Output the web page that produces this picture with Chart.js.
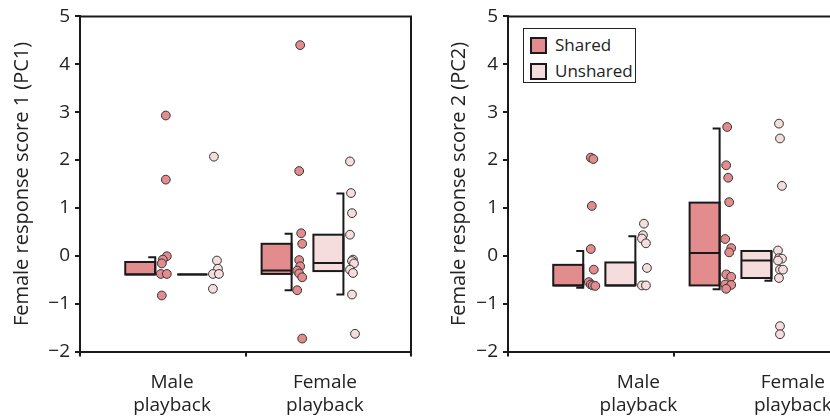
<!DOCTYPE html>
<html lang="en">
<head>
  <meta charset="UTF-8" />
  <title>Female response scores</title>
  <style>
    html, body { margin: 0; padding: 0; background: #fff; overflow: hidden; }
    body { width: 830px; height: 416px; position: relative; font-family: "Open Sans", sans-serif; }
    .panel { position: absolute; top: 0; width: 440px; height: 416px; }
    #panelLeft { left: 0; }
    #panelRight { left: 428px; }
    .legend {
      position: absolute; left: 523px; top: 28px; width: 111px; height: 53px;
      border: 1.5px solid #222; background: #fff; color: #222; font-size: 17px;
    }
    .legend .row { position: absolute; left: 6px; height: 18px; line-height: 18px; }
    .legend .sw { display: inline-block; width: 13px; height: 13px; border: 2px solid #1a1a1a; vertical-align: -3px; margin-right: 8px; }
  </style>
</head>
<body>
  <div class="panel" id="panelLeft"><canvas id="chartPC1" width="440" height="416"></canvas></div>
  <div class="panel" id="panelRight"><canvas id="chartPC2" width="440" height="416"></canvas></div>
  <div class="legend">
    <div class="row" style="top:7px"><span class="sw" style="background:#E38C8E"></span>Shared</div>
    <div class="row" style="top:33px"><span class="sw" style="background:#F5DCDD"></span>Unshared</div>
  </div>

  <script src="https://cdn.jsdelivr.net/npm/chart.js@4.4.1/dist/chart.umd.min.js"></script>
  <script>
    // groups in drawing order
    const groups = ['Male Shared', 'Male Unshared', 'Female Shared', 'Female Unshared'];
    const yTicks = [-2, -1, 0, 1, 2, 3, 4, 5];

    // box stats: [min, q1, median, q3, max]
    const pc1Boxes = [
      [-0.39, -0.39, -0.39, -0.13, -0.03],
      [-0.39, -0.39, -0.39, -0.39, -0.39],
      [-0.72, -0.38, -0.31, 0.25, 0.46],
      [-0.81, -0.32, -0.15, 0.44, 1.30]
    ];
    const pc2Boxes = [
      [-0.67, -0.62, -0.62, -0.19, 0.10],
      [-0.62, -0.62, -0.62, -0.14, 0.41],
      [-0.70, -0.62, 0.055, 1.11, 2.66],
      [-0.52, -0.465, -0.10, 0.10, 0.10]
    ];

    // individual scores
    const pc1MaleShared = [2.93, 1.59, -0.01, -0.08, -0.16, -0.38, -0.38, -0.83];
    const pc1MaleUnshared = [2.07, -0.10, -0.27, -0.38, -0.38, -0.69];
    const pc1FemaleShared = [4.40, 1.77, 0.47, 0.25, -0.09, -0.22, -0.31, -0.37, -0.45, -0.72, -1.73];
    const pc1FemaleUnshared = [1.97, 1.31, 0.89, 0.44, -0.08, -0.11, -0.16, -0.29, -0.36, -0.81, -1.63];

    const pc2MaleShared = [2.05, 2.02, 1.04, 0.14, -0.29, -0.55, -0.60, -0.62, -0.63];
    const pc2MaleUnshared = [0.67, 0.43, 0.36, 0.26, -0.255, -0.62, -0.62];
    const pc2FemaleShared = [2.69, 1.89, 1.63, 1.12, 0.35, 0.16, 0.07, -0.39, -0.44, -0.60, -0.61, -0.69];
    const pc2FemaleUnshared = [2.76, 2.45, 1.46, 0.11, -0.05, -0.06, -0.10, -0.29, -0.29, -0.465, -1.47, -1.64];

    // horizontal jitter of the dots (pixels)
    const pc1Jitter = [
      [2, 2, 3, -1, -2, -3, 3, -2],
      [-2, 1, 2, -3, 3, -3],
      [0, -1, 1, 2, -1, 0, -3, -1, 2, -3, 2],
      [-2, -1, 0, -2, 1, 0, 2, -2, 1, 0, 3]
    ];
    const pc2Jitter = [
      [-1, 1.5, 0, -1, 2, -3, -1, 1, 3.5],
      [0, -1, -2, 2, 3, -2, 2],
      [-1, -2, 0, 1, -3, 3, 1, -2, 3, -3, 3, -2],
      [-1, 0, 2, -2, -1, 2, -2, 0, 3, -1, 0, 0]
    ];

    // layout (x axis runs 0..2, tick at 1)
    const boxX = [0.364, 0.679, 1.188, 1.501];
    const PX = 1 / 165;          // one pixel in x units
    const dotOffset = 23.5;      // dots sit right of the box
    const pc1LabelX = [0.556, 1.48];
    const pc2LabelX = [0.788, 1.721];
    const catLabels = [['Male', 'playback'], ['Female', 'playback']];

    const fills = ['#E38C8E', '#F5DCDD', '#E38C8E', '#F5DCDD'];
    const ink = '#1a1a1a';
    const FONT = '"Open Sans", sans-serif';

    const boxPlugin = {
      id: 'boxes',
      beforeDatasetsDraw(chart) {
        const { ctx, scales: { x, y } } = chart;
        const boxes = chart.options.plugins.boxes.stats;
        const half = 15, cap = 7;
        ctx.save();
        ctx.lineWidth = 2;
        ctx.strokeStyle = ink;
        boxes.forEach((b, i) => {
          const cx = x.getPixelForValue(boxX[i]);
          const l = cx - half, r = cx + half;
          const yMin = y.getPixelForValue(b[0]), yQ1 = y.getPixelForValue(b[1]);
          const yMed = y.getPixelForValue(b[2]), yQ3 = y.getPixelForValue(b[3]);
          const yMax = y.getPixelForValue(b[4]);
          ctx.fillStyle = fills[i];
          ctx.fillRect(l, yQ3, r - l, yQ1 - yQ3);
          ctx.strokeRect(l, yQ3, r - l, yQ1 - yQ3);
          ctx.beginPath();
          ctx.moveTo(l, yMed); ctx.lineTo(r, yMed);
          // half whiskers on the right edge
          ctx.moveTo(r, yMax); ctx.lineTo(r, yMin);
          if (b[4] > b[3]) { ctx.moveTo(r - cap, yMax); ctx.lineTo(r + 1, yMax); }
          if (b[0] < b[1]) { ctx.moveTo(r - cap, yMin); ctx.lineTo(r + 1, yMin); }
          ctx.stroke();
        });
        ctx.restore();
      },
      afterDraw(chart) {
        const { ctx, chartArea: a } = chart;
        ctx.save();
        ctx.strokeStyle = ink;
        ctx.lineWidth = 2;
        ctx.beginPath();
        ctx.moveTo(a.left, a.top); ctx.lineTo(a.right, a.top); ctx.lineTo(a.right, a.bottom);
        ctx.stroke();
        ctx.restore();
      }
    };

    function dots(values, jitter, i) {
      return {
        data: values.map((v, k) => ({ x: boxX[i] + (dotOffset + jitter[k]) * PX, y: v })),
        backgroundColor: fills[i],
        borderColor: '#333',
        borderWidth: 1,
        pointRadius: 4.4,
        pointHoverRadius: 4.4
      };
    }

    function makeChart(id, title, boxes, series, jitters, labelX, titlePad) {
      const tickVals = [0, labelX[0], 1, labelX[1], 2];
      return new Chart(document.getElementById(id), {
        type: 'scatter',
        data: { datasets: series.map((s, i) => dots(s, jitters[i], i)) },
        plugins: [boxPlugin],
        options: {
          responsive: false,
          animation: false,
          layout: { padding: { top: 15, right: 29, bottom: 0, left: 0 } },
          plugins: {
            legend: { display: false },
            tooltip: { enabled: false },
            boxes: { stats: boxes }
          },
          scales: {
            x: {
              type: 'linear', min: 0, max: 2,
              afterBuildTicks: s => { s.ticks = tickVals.map(v => ({ value: v })); },
              afterFit: s => { s.height = 64.5; },
              border: { display: true, color: ink, width: 2 },
              grid: {
                drawOnChartArea: false, tickLength: 5, lineWidth: 2,
                tickColor: c => (c.tick && Number.isInteger(c.tick.value)) ? ink : 'rgba(0,0,0,0)'
              },
              ticks: {
                autoSkip: false, maxRotation: 0, padding: 15, color: '#222',
                font: { family: FONT, size: 19, lineHeight: 1.18 },
                callback: v => v === labelX[0] ? catLabels[0] : (v === labelX[1] ? catLabels[1] : '')
              }
            },
            y: {
              min: -2, max: 5,
              afterBuildTicks: s => { s.ticks = yTicks.map(v => ({ value: v })); },
              afterFit: s => { s.width = 80; },
              border: { display: true, color: ink, width: 2 },
              grid: { drawOnChartArea: false, tickLength: 5, lineWidth: 2, color: ink },
              ticks: {
                padding: 5, color: '#222', font: { family: FONT, size: 19 },
                callback: v => String(v).replace('-', '\u2212')
              },
              title: {
                display: true, text: title, color: '#222',
                font: { family: FONT, size: 20 }, padding: { top: titlePad, bottom: 0 }
              }
            }
          }
        }
      });
    }

    makeChart('chartPC1', 'Female response score 1 (PC1)', pc1Boxes,
      [pc1MaleShared, pc1MaleUnshared, pc1FemaleShared, pc1FemaleUnshared], pc1Jitter, pc1LabelX, 10);
    makeChart('chartPC2', 'Female response score 2 (PC2)', pc2Boxes,
      [pc2MaleShared, pc2MaleUnshared, pc2FemaleShared, pc2FemaleUnshared], pc2Jitter, pc2LabelX, 19);
  </script>
</body>
</html>
